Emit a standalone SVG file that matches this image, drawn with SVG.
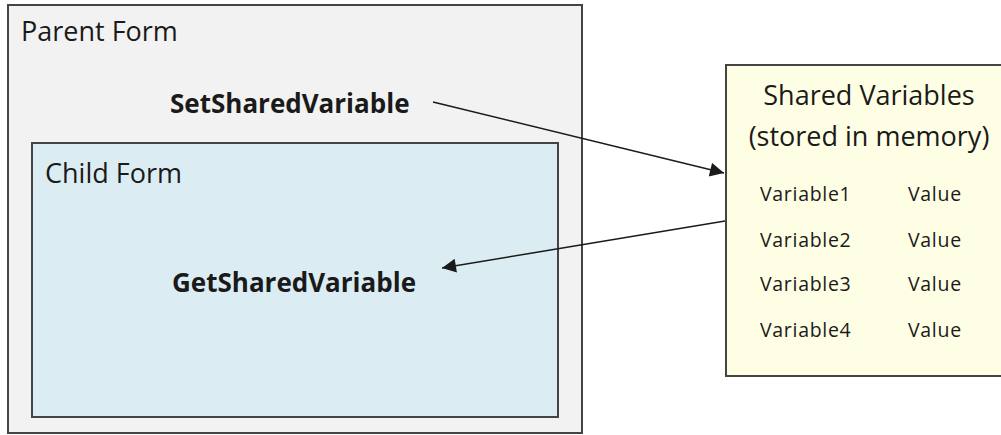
<svg xmlns="http://www.w3.org/2000/svg" width="1001" height="435" viewBox="0 0 1001 435">
<defs>
<style>
.box{stroke:#444;stroke-width:2}
.t{font-family:"Open Sans","Liberation Sans",sans-serif;fill:#1a1a1a}
.title{font-size:27px}
.bold{font-size:26px;font-weight:bold}
.small{font-size:19.5px;letter-spacing:0.7px}
.conn{stroke:#1a1a1a;stroke-width:1.5;fill:none}
</style>
<marker id="arr" viewBox="0 0 10 10" refX="10" refY="5" markerWidth="17" markerHeight="14" markerUnits="userSpaceOnUse" orient="auto">
<path d="M0,0 L10,5 L0,10 Z" fill="#1a1a1a"/>
</marker>
</defs>
<rect width="1001" height="435" fill="#ffffff"/>
<g id="parent-form">
<rect class="box" x="8" y="5" width="574" height="428" fill="#f2f2f2"/>
<text class="t title" x="21" y="41">Parent Form</text>
<text class="t bold" x="170" y="113">SetSharedVariable</text>
</g>
<g id="child-form">
<rect class="box" x="32" y="143" width="526" height="274" fill="#dbedf3"/>
<text class="t title" x="45" y="183">Child Form</text>
<text class="t bold" x="172" y="292">GetSharedVariable</text>
</g>
<g id="shared-variables">
<rect class="box" x="726" y="65" width="280" height="311" fill="#fefee4"/>
<text class="t title" x="869" y="105" text-anchor="middle">Shared Variables</text>
<text class="t title" x="869" y="146" text-anchor="middle">(stored in memory)</text>
<text class="t small" x="760" y="201">Variable1</text>
<text class="t small" x="908" y="201">Value</text>
<text class="t small" x="760" y="247">Variable2</text>
<text class="t small" x="908" y="247">Value</text>
<text class="t small" x="760" y="291">Variable3</text>
<text class="t small" x="908" y="291">Value</text>
<text class="t small" x="760" y="337">Variable4</text>
<text class="t small" x="908" y="337">Value</text>
</g>
<g id="connectors">
<line class="conn" x1="433" y1="102" x2="724" y2="173" marker-end="url(#arr)"/>
<line class="conn" x1="725" y1="221" x2="442" y2="268" marker-end="url(#arr)"/>
</g>
</svg>
